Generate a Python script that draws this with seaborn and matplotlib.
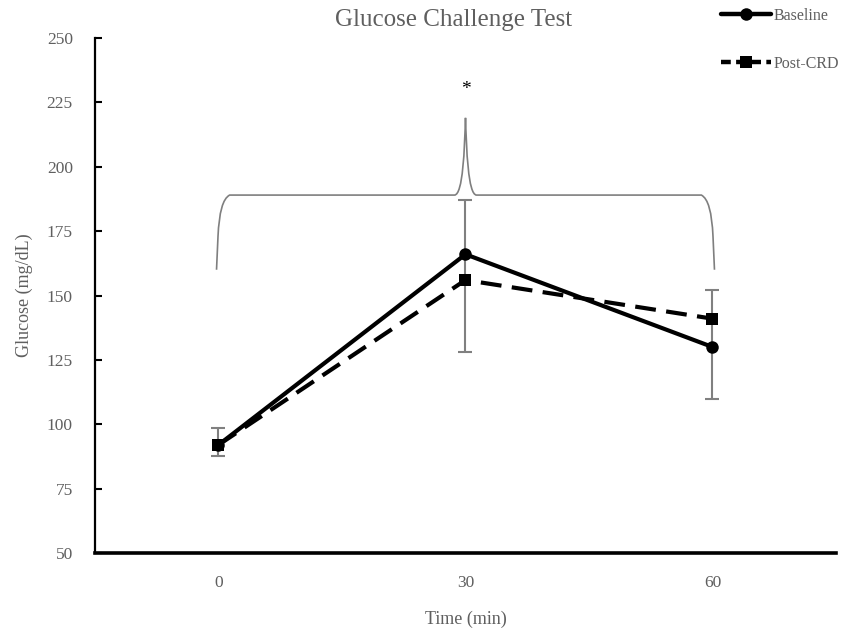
import numpy as np
import pandas as pd
import matplotlib
matplotlib.use("Agg")
import matplotlib.pyplot as plt
from matplotlib.path import Path
from matplotlib.patches import PathPatch
from matplotlib.lines import Line2D
import seaborn as sns

# ---- data ----
time_labels = ["0", "30", "60"]
baseline = [92, 166, 130]
post_crd = [92, 156, 141]
err_lower = [87.5, 128, 110]
err_upper = [98.5, 187, 152]
series_names = ["Baseline", "Post-CRD"]

sns.set_style("white")
plt.rcParams["font.family"] = ["Liberation Serif", "DejaVu Serif"]

GREY_TXT = "#5f5f5f"

pos = np.arange(len(time_labels))
df = pd.DataFrame({
    "pos": np.concatenate([pos, pos]),
    "glucose": baseline + post_crd,
    "series": [series_names[0]] * 3 + [series_names[1]] * 3,
})

fig = plt.figure(figsize=(8.54, 6.30), dpi=100)
ax = fig.add_axes([95 / 854, 1 - 553 / 630, (836 - 95) / 854, (553 - 38) / 630])

# error bars (behind lines)
centre = (np.array(err_lower) + np.array(err_upper)) / 2
half = (np.array(err_upper) - np.array(err_lower)) / 2
ax.errorbar(pos, centre, yerr=half, fmt="none", ecolor="#808080",
            elinewidth=1.5, capsize=5, capthick=1.5, zorder=1)

sns.lineplot(data=df, x="pos", y="glucose", hue="series", style="series",
             palette=["black", "black"], markers=["o", "s"],
             dashes=[(1, 0), (5, 2.5)], linewidth=3, markersize=9,
             markeredgewidth=0, legend=False, ax=ax, zorder=3)

ax.set_xlim(-0.5, 2.5)
ax.set_ylim(50, 250)
ax.set_yticks(np.arange(50, 251, 25))
ax.set_xticks(pos)
ax.set_xticklabels(time_labels)

for s in ["top", "right"]:
    ax.spines[s].set_visible(False)
ax.spines["left"].set_linewidth(1.6)
ax.spines["bottom"].set_linewidth(2.6)
ax.spines["left"].set_color("black")
ax.spines["bottom"].set_color("black")

ax.tick_params(axis="y", direction="in", length=5, width=1.5, color="black",
               labelsize=12.5, labelcolor=GREY_TXT, pad=16, left=True)
ax.tick_params(axis="x", length=0, labelsize=12.5, labelcolor=GREY_TXT, pad=16)

ax.set_xlabel("Time (min)", fontsize=13, color=GREY_TXT, labelpad=14)
ax.set_ylabel("Glucose (mg/dL)", fontsize=13, color=GREY_TXT, labelpad=10)

fig.text(454 / 854, 1 - 20 / 630, "Glucose Challenge Test", ha="center",
         va="center", fontsize=18, color=GREY_TXT)

# ---- significance brace ----
x0, xm, x1 = 0.0, 1.0, 2.0
y_end, y_bar, y_peak = 160, 189, 219
dx = 0.045
verts = [
    (x0 - 0.008, y_end), (x0 - 0.002, y_bar - 16),
    (x0 + 0.004, y_bar - 2), (x0 + dx, y_bar),
    (xm - 0.045, y_bar),
    (xm - 0.01, y_bar), (xm - 0.004, y_peak - 12), (xm, y_peak),
    (xm + 0.004, y_peak - 12), (xm + 0.01, y_bar), (xm + 0.045, y_bar),
    (x1 - dx, y_bar),
    (x1 - 0.004, y_bar - 2), (x1 + 0.002, y_bar - 16),
    (x1 + 0.008, y_end),
]
codes = [Path.MOVETO, Path.LINETO,
         Path.CURVE3, Path.CURVE3,
         Path.LINETO,
         Path.CURVE4, Path.CURVE4, Path.CURVE4,
         Path.CURVE4, Path.CURVE4, Path.CURVE4,
         Path.LINETO,
         Path.CURVE3, Path.CURVE3,
         Path.LINETO]
brace = PathPatch(Path(verts, codes), facecolor="none", edgecolor="#7f7f7f",
                  lw=1.2, transform=ax.transData, zorder=2)
ax.add_patch(brace)
ax.text(xm, 230, "*", ha="center", va="center", fontsize=14, color="black")

# ---- legend ----
handles = [
    Line2D([], [], color="black", lw=3.2, marker="o", markersize=9, markeredgewidth=0),
    Line2D([], [], color="black", lw=3.2, ls=(0, (2.2, 1.2)), marker="s", markersize=9,
           markeredgewidth=0),
]
fig.legend(handles, series_names, loc="upper right", bbox_to_anchor=(0.997, 1.008),
           frameon=False, fontsize=11.5, labelcolor=GREY_TXT, handlelength=3.1,
           handletextpad=0.15, labelspacing=2.0, borderpad=0.3)

fig.savefig("out.png", dpi=100)
